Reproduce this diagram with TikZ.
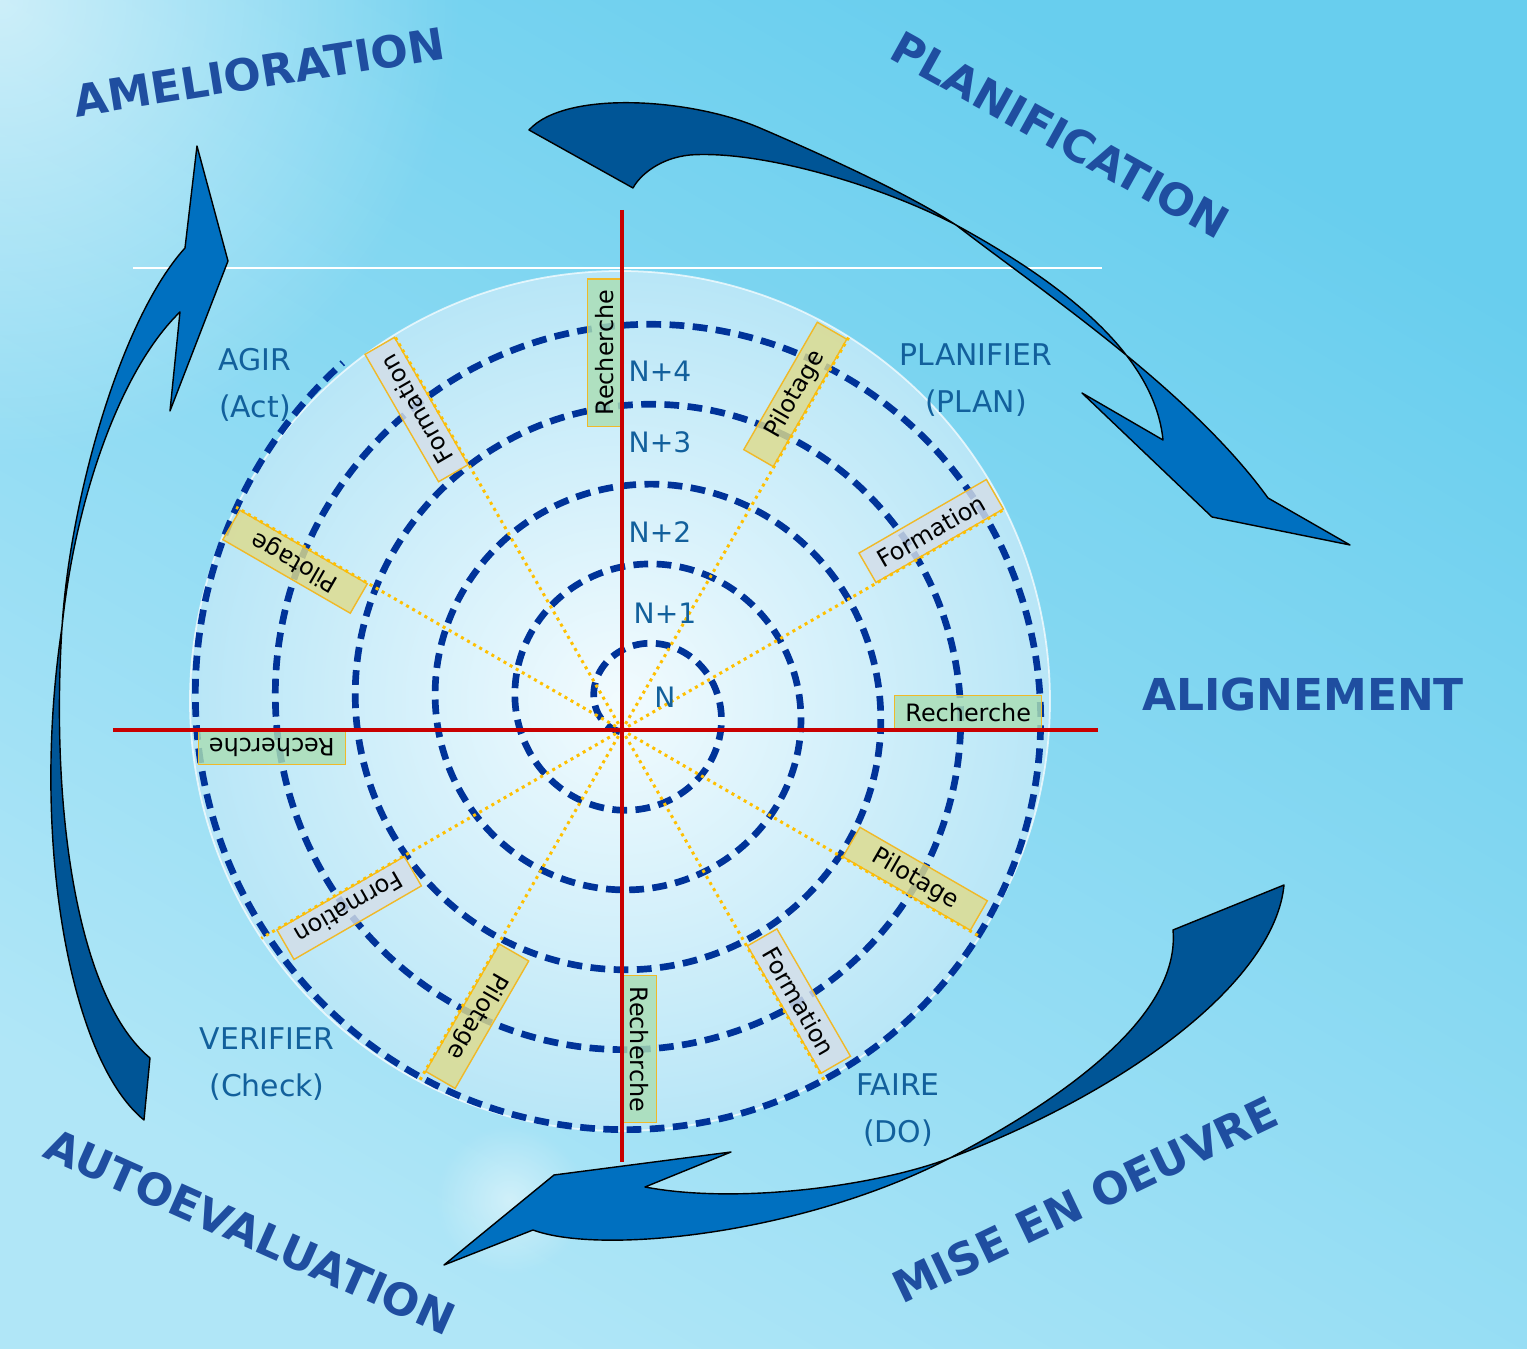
\documentclass[tikz,border=0pt]{standalone}
\usepackage{fontspec}
\setmainfont{DejaVu Sans}
\usetikzlibrary{fadings}

\definecolor{bgtop}{RGB}{104,206,238}
\definecolor{bgbot}{RGB}{176,230,247}
\definecolor{discin}{RGB}{242,251,254}
\definecolor{discout}{RGB}{184,230,247}
\definecolor{spiralblue}{RGB}{0,51,153}
\definecolor{axisred}{RGB}{200,0,0}
\definecolor{spokegold}{RGB}{255,192,0}
\definecolor{boxedge}{RGB}{240,185,40}
\definecolor{rechfill}{RGB}{170,222,180}
\definecolor{pilfill}{RGB}{222,219,140}
\definecolor{formfill}{RGB}{212,222,232}
\definecolor{levelblue}{RGB}{18,96,156}
\definecolor{titleblue}{RGB}{31,78,160}
\definecolor{arrowdark}{RGB}{0,85,150}
\definecolor{arrowlight}{RGB}{0,112,192}

\tikzfading[name=glow, inner color=transparent!0, outer color=transparent!100]

\begin{document}
\begin{tikzpicture}[x=0.01cm, y=0.01cm,
  lab/.style={inner sep=0pt, minimum width=1.47cm, minimum height=0.34cm, draw=boxedge, line width=0.4pt,
    fill opacity=0.82, text opacity=1, font=\fontsize{6.8}{8}\selectfont, anchor=south west},
  rech/.style={lab, fill=rechfill},
  pil/.style={lab, fill=pilfill},
  form/.style={lab, fill=formfill},
  level/.style={text=levelblue, font=\fontsize{8}{9}\selectfont},
  phase/.style={text=levelblue, align=center, font=\fontsize{8.5}{13.4}\selectfont},
  title/.style={text=titleblue, font=\fontsize{12.5}{14}\selectfont\bfseries},
  spoke/.style={spokegold, line width=0.85pt, dash pattern=on 0.85pt off 1.15pt},
  bigarrow/.style={draw=black, line width=0.4pt, line join=round}
]
\useasboundingbox (-622,-619) rectangle (905,730);

% background
\shade[top color=bgtop, bottom color=bgbot, shading angle=-30] (-622,-619) rectangle (905,730);
\fill[white, path fading=glow, fill opacity=0.6] (-622,730) circle (460);
\fill[white, path fading=glow, fill opacity=0.45] (-112,-470) circle (75);
\draw[white, line width=0.6pt] (-489,462) -- (480,462);

% disc and spiral
\coordinate (hub) at (0,0);
\shade[inner color=discin, outer color=discout] (-2,29) circle (430);
\draw[white, draw opacity=0.7, line width=0.5pt] (-2,29) circle (430);
\draw[spiralblue, line width=1.9pt, dash pattern=on 4.2pt off 2.4pt]
  plot[domain=-0.15:5.14, samples=700, smooth] ({16+(42.5+80*\x)*cos(180-360*\x)}, {23+(42.5+80*\x)*sin(180-360*\x)});

% boxes on the spokes
\node[rech, rotate=90] (rechN) at (90:303) {Recherche};
\node[pil, rotate=60] (pilNE) at (60:303) {Pilotage};
\node[form, rotate=30] (formNE) at (30:293) {Formation};
\node[rech, rotate=0] (rechE) at (0:272) {Recherche};
\node[pil, rotate=-30] (pilSE) at (-30:254) {Pilotage};
\node[form, rotate=-60] (formSE) at (-60:249) {Formation};
\node[rech, rotate=-90] (rechS) at (-90:245) {Recherche};
\node[pil, rotate=-120] (pilSW) at (-120:246) {Pilotage};
\node[form, rotate=-150] (formSW) at (-150:251) {Formation};
\node[rech, rotate=180] (rechW) at (180:276) {Recherche};
\node[pil, rotate=150] (pilNW) at (150:293) {Pilotage};
\node[form, rotate=120] (formNW) at (120:306) {Formation};

\begin{scope}
  \clip (-2,29) circle (430);
  \foreach \a in {30,60,120,150,210,240,300,330}
    \draw[spoke] (hub) -- (\a:480);
\end{scope}

% axes
\draw[axisred, line width=1pt] (-509,0) -- (476,0);
\draw[axisred, line width=1pt] (0,520) -- (0,-432);

% levels
\node[level] (lvN) at (43,33) {N};
\node[level] (lvN1) at (43,117) {N+1};
\node[level] (lvN2) at (38,198) {N+2};
\node[level] (lvN3) at (38,288) {N+3};
\node[level] (lvN4) at (38,359) {N+4};

% phases
\node[phase] (agir) at (-367,345) {AGIR\\(Act)};
\node[phase] (planifier) at (354,350) {PLANIFIER\\(PLAN)};
\node[phase] (verifier) at (-355,-334) {VERIFIER\\(Check)};
\node[phase] (faire) at (276,-380) {FAIRE\\(DO)};

% big arrows
\draw[bigarrow, fill=arrowdark] (-93,600) .. controls (-57,640) and (68,632) .. (138,602)
  .. controls (208,572) and (288,535) .. (334,505)
  .. controls (258,545) and (138,580) .. (68,575)
  .. controls (38,572) and (18,555) .. (11,542) -- cycle;
\draw[bigarrow, fill=arrowlight] (334,505) .. controls (418,440) and (568,340) .. (646,232)
  -- (728,185) -- (590,213) -- (460,337) -- (541,290)
  .. controls (533,370) and (453,440) .. (334,505) -- cycle;

\draw[bigarrow, fill=arrowdark] (662,-155) .. controls (653,-250) and (508,-360) .. (328,-428)
  .. controls (458,-360) and (558,-280) .. (551,-200) -- cycle;
\draw[bigarrow, fill=arrowlight] (328,-428) .. controls (258,-455) and (118,-475) .. (23,-457)
  -- (109,-422) -- (-68,-445) -- (-178,-535) -- (-89,-500)
  .. controls (-22,-525) and (178,-505) .. (328,-428) -- cycle;

\draw[bigarrow, fill=arrowdark] (-478,-390) .. controls (-552,-330) and (-592,-110) .. (-560,103)
  .. controls (-572,-90) and (-542,-270) .. (-472,-328) -- cycle;
\draw[bigarrow, fill=arrowlight] (-560,103) .. controls (-552,230) and (-502,410) .. (-437,482)
  -- (-425,584) -- (-394,469) -- (-452,319) -- (-442,418)
  .. controls (-502,360) and (-547,230) .. (-560,103) -- cycle;

% titles
\node[title, rotate=9] (amelioration) at (-363,658) {AMELIORATION};
\node[title, rotate=-29] (planification) at (438,595) {PLANIFICATION};
\node[title] (alignement) at (681,35) {ALIGNEMENT};
\node[title, rotate=25.5] (miseoeuvre) at (463,-470) {MISE EN OEUVRE};
\node[title, rotate=-24] (autoeval) at (-372,-502) {AUTOEVALUATION};
\end{tikzpicture}
\end{document}
